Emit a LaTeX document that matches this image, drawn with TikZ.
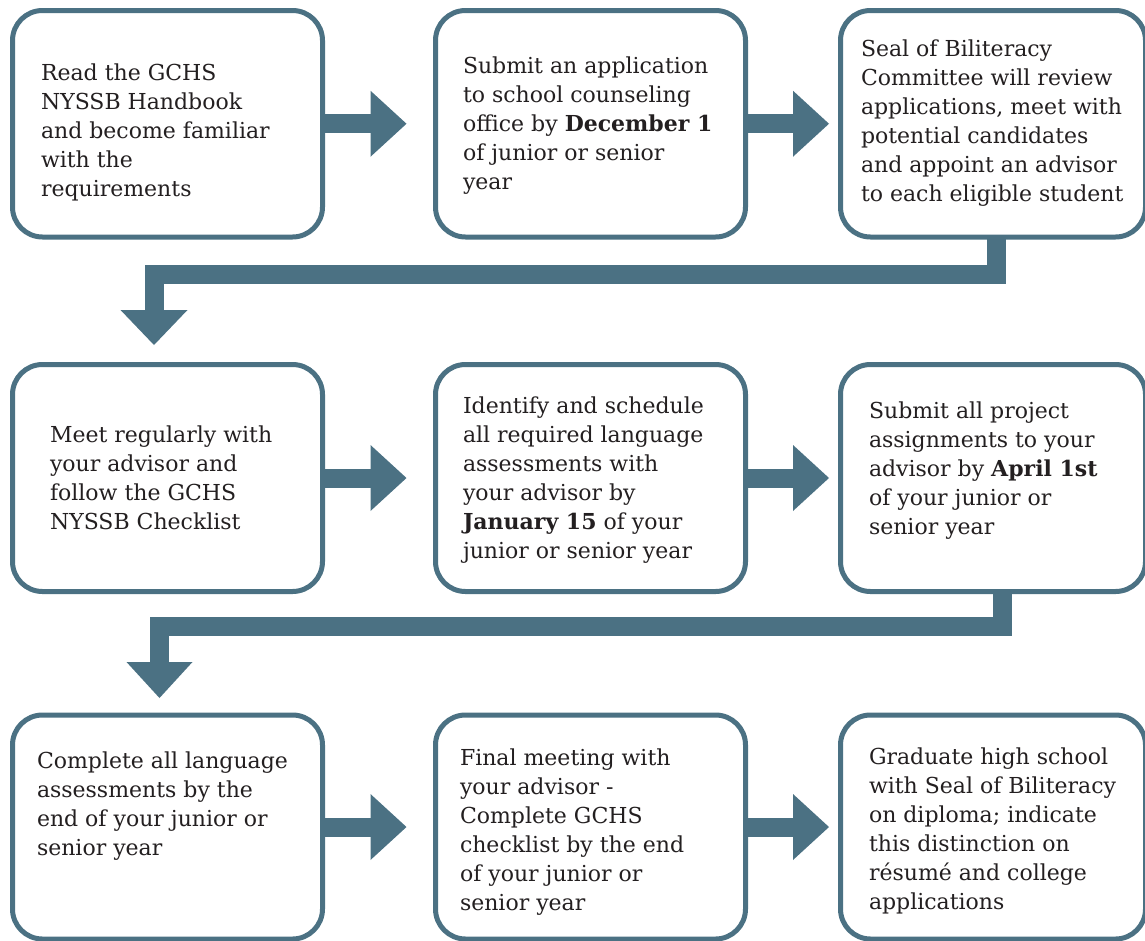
\documentclass[tikz,border=0pt]{standalone}
\usepackage{fontspec}
\setmainfont{DejaVu Serif}
\usetikzlibrary{arrows.meta}
\definecolor{steel}{HTML}{4B7183}
\definecolor{ink}{HTML}{231F20}
\begin{document}
\begin{tikzpicture}[x=1pt,y=-1pt,
  stepbox/.style={draw=steel, line width=5pt, rounded corners=30pt, fill=white,
    inner sep=0pt, outer sep=0pt, minimum width=310pt, minimum height=227pt},
  txt/.style={text=ink, align=left, inner sep=0pt, outer sep=0pt, anchor=base west,
    font=\fontsize{22}{29}\selectfont},
  rarrow/.style={draw=steel, line width=19pt,
    -{Triangle[length=36pt,width=66pt,line width=0pt]}, shorten >=29pt},
  rarrowb/.style={rarrow, shorten >=11.5pt},
  elbow/.style={draw=steel, line width=19pt, line join=miter}
]
\useasboundingbox (0,0) rectangle (1145,940);
\clip (0,0) rectangle (1145,940);

% boxes
\node[stepbox, minimum height=226.5pt] (b1) at (167.5,123.75) {};
\node[stepbox, minimum height=226.5pt] (b2) at (590.5,123.75) {};
\node[stepbox, minimum height=226.5pt, minimum width=305pt] (b3) at (993,123.75) {};
\node[stepbox] (b4) at (167.5,478) {};
\node[stepbox] (b5) at (590.5,478) {};
\node[stepbox, minimum width=305pt] (b6) at (993,478) {};
\node[stepbox, minimum height=224pt] (b7) at (167.5,827) {};
\node[stepbox, minimum height=224pt] (b8) at (590.5,827) {};
\node[stepbox, minimum height=224pt, minimum width=305pt] (b9) at (993,827) {};

% texts (anchor = baseline of the last line)
\node[txt] (t1) at (41,196) {Read the GCHS\\NYSSB Handbook\\and become familiar\\with the\\requirements};
\node[txt] (t2) at (463,189) {Submit an application\\to school counseling\\office by \textbf{December 1}\\of junior or senior\\year};
\node[txt] (t3) at (861,201) {Seal of Biliteracy\\Committee will review\\applications, meet with\\potential candidates\\and appoint an advisor\\to each eligible student};
\node[txt] (t4) at (50,529) {Meet regularly with\\your advisor and\\follow the GCHS\\NYSSB Checklist};
\node[txt] (t5) at (463,558) {Identify and schedule\\all required language\\assessments with\\your advisor by\\\textbf{January 15} of your\\junior or senior year};
\node[txt] (t6) at (869,534) {Submit all project\\assignments to your\\advisor by \textbf{April 1st}\\of your junior or\\senior year};
\node[txt] (t7) at (37,855) {Complete all language\\assessments by the\\end of your junior or\\senior year};
\node[txt] (t8) at (460,910) {Final meeting with\\your advisor -\\Complete GCHS\\checklist by the end\\of your junior or\\senior year};
\node[txt] (t9) at (869,909) {Graduate high school\\with Seal of Biliteracy\\on diploma; indicate\\this distinction on\\résumé and college\\applications};

% straight arrows
\draw[rarrow] (b1.east) -- (b2.west);
\draw[rarrowb] (b2.east) -- (b3.west);
\draw[rarrow] (b4.east) -- (b5.west);
\draw[rarrowb] (b5.east) -- (b6.west);
\draw[rarrow] (b7.east) -- (b8.west);
\draw[rarrowb] (b8.east) -- (b9.west);

% elbow arrows
\draw[elbow, -{Triangle[length=35pt,width=67pt,line width=0pt]}, shorten >=19.5pt]
  ([xshift=3.5pt]b3.south) -- ++(0,37) -| ([xshift=-13.5pt]b4.north);
\draw[elbow, -{Triangle[length=36pt,width=66pt,line width=0pt]}, shorten >=17pt]
  ([xshift=9.5pt]b6.south) -- ++(0,35) -| ([xshift=-8pt]b7.north);
\end{tikzpicture}
\end{document}
